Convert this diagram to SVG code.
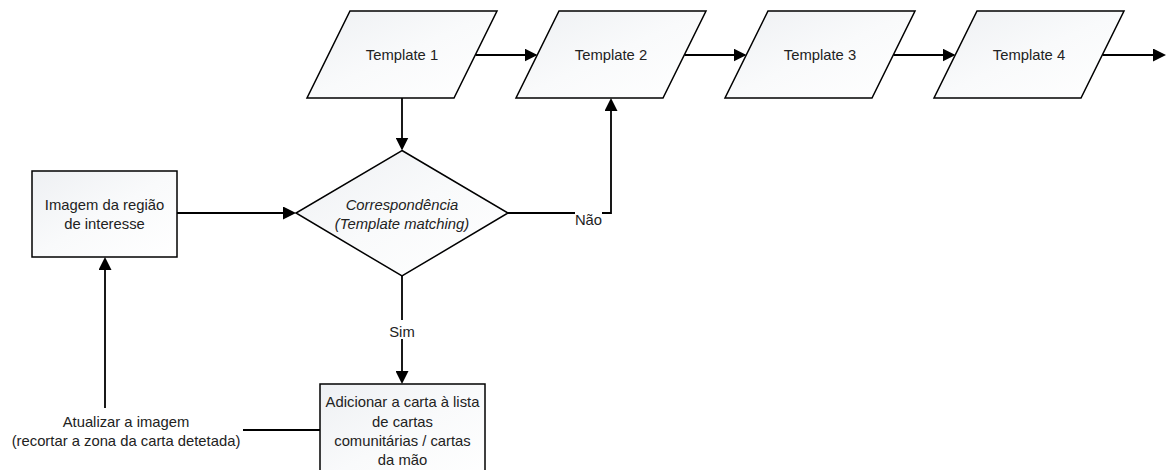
<svg xmlns="http://www.w3.org/2000/svg" width="1167" height="470" viewBox="0 0 1167 470">
  <defs>
    <linearGradient id="fillGrad" x1="0" y1="0" x2="1" y2="1">
      <stop offset="0" stop-color="#eef0f3"/>
      <stop offset="0.5" stop-color="#f9fafb"/>
      <stop offset="1" stop-color="#ffffff"/>
    </linearGradient>
    <marker id="arrow" viewBox="0 0 13 13" refX="11" refY="6.5" markerWidth="13" markerHeight="13" markerUnits="userSpaceOnUse" orient="auto">
      <path d="M0,0 L13,6.5 L0,13 Z" fill="#000"/>
    </marker>
    <style>
      .shape { fill: url(#fillGrad); stroke: #000; stroke-width: 1.5; }
      .conn { fill: none; stroke: #000; stroke-width: 1.8; }
      .arr { marker-end: url(#arrow); }
      .lbl { font-family: "Liberation Sans", Arial, sans-serif; font-size: 14.8px; fill: #222; text-anchor: middle; }
      .it { font-style: italic; }
      .bg { fill: #fff; stroke: none; }
    </style>
  </defs>

  <rect width="1167" height="470" fill="#fff"/>

  <!-- connectors -->
  <g id="connectors">
    <path class="conn arr" d="M475.5,55 H535.5"/>
    <path class="conn arr" d="M684.5,55 H744.5"/>
    <path class="conn arr" d="M893.5,55 H953.5"/>
    <path class="conn arr" d="M1102.5,55 H1164"/>
    <path class="conn arr" d="M402,98 V148.5"/>
    <path class="conn arr" d="M177,213 H294"/>
    <path class="conn arr" d="M508,213 H611 V100"/>
    <path class="conn arr" d="M402,276 V382"/>
    <path class="conn" d="M320,430 H243"/>
    <path class="conn arr" d="M105,408 V259"/>
    <!-- label backgrounds -->
    <rect class="bg" x="575" y="211" width="27" height="17"/>
    <rect class="bg" x="390" y="320" width="24" height="19"/>
    <text class="lbl" x="588.5" y="225">Não</text>
    <text class="lbl" x="402" y="337">Sim</text>
  </g>

  <!-- template inputs -->
  <g id="template1">
    <polygon class="shape" points="350,11 497,11 454,98 307,98"/>
    <text class="lbl" x="402" y="60">Template 1</text>
  </g>
  <g id="template2">
    <polygon class="shape" points="559,11 706,11 663,98 516,98"/>
    <text class="lbl" x="611" y="60">Template 2</text>
  </g>
  <g id="template3">
    <polygon class="shape" points="768,11 915,11 872,98 725,98"/>
    <text class="lbl" x="820" y="60">Template 3</text>
  </g>
  <g id="template4">
    <polygon class="shape" points="977,11 1124,11 1081,98 934,98"/>
    <text class="lbl" x="1029" y="60">Template 4</text>
  </g>

  <!-- region of interest image -->
  <g id="roi-image">
    <rect class="shape" x="32" y="171" width="145" height="86"/>
    <text class="lbl" x="104.5" y="210">Imagem da região</text>
    <text class="lbl" x="104.5" y="229">de interesse</text>
  </g>

  <!-- matching decision -->
  <g id="matching">
    <polygon class="shape" points="402,150.5 508,213 402,276 296,213"/>
    <text class="lbl it" x="402" y="210">Correspondência</text>
    <text class="lbl it" x="402" y="229">(Template matching)</text>
  </g>

  <!-- add card to list -->
  <g id="add-card">
    <rect class="shape" x="320" y="384" width="165" height="100"/>
    <text class="lbl" x="402.5" y="406.5">Adicionar a carta à lista</text>
    <text class="lbl" x="402.5" y="426.5">de cartas</text>
    <text class="lbl" x="402.5" y="446">comunitárias / cartas</text>
    <text class="lbl" x="402.5" y="465">da mão</text>
  </g>

  <!-- update image label -->
  <g id="update-image">
    <text class="lbl" x="126" y="427">Atualizar a imagem</text>
    <text class="lbl" x="126" y="446">(recortar a zona da carta detetada)</text>
  </g>
</svg>
